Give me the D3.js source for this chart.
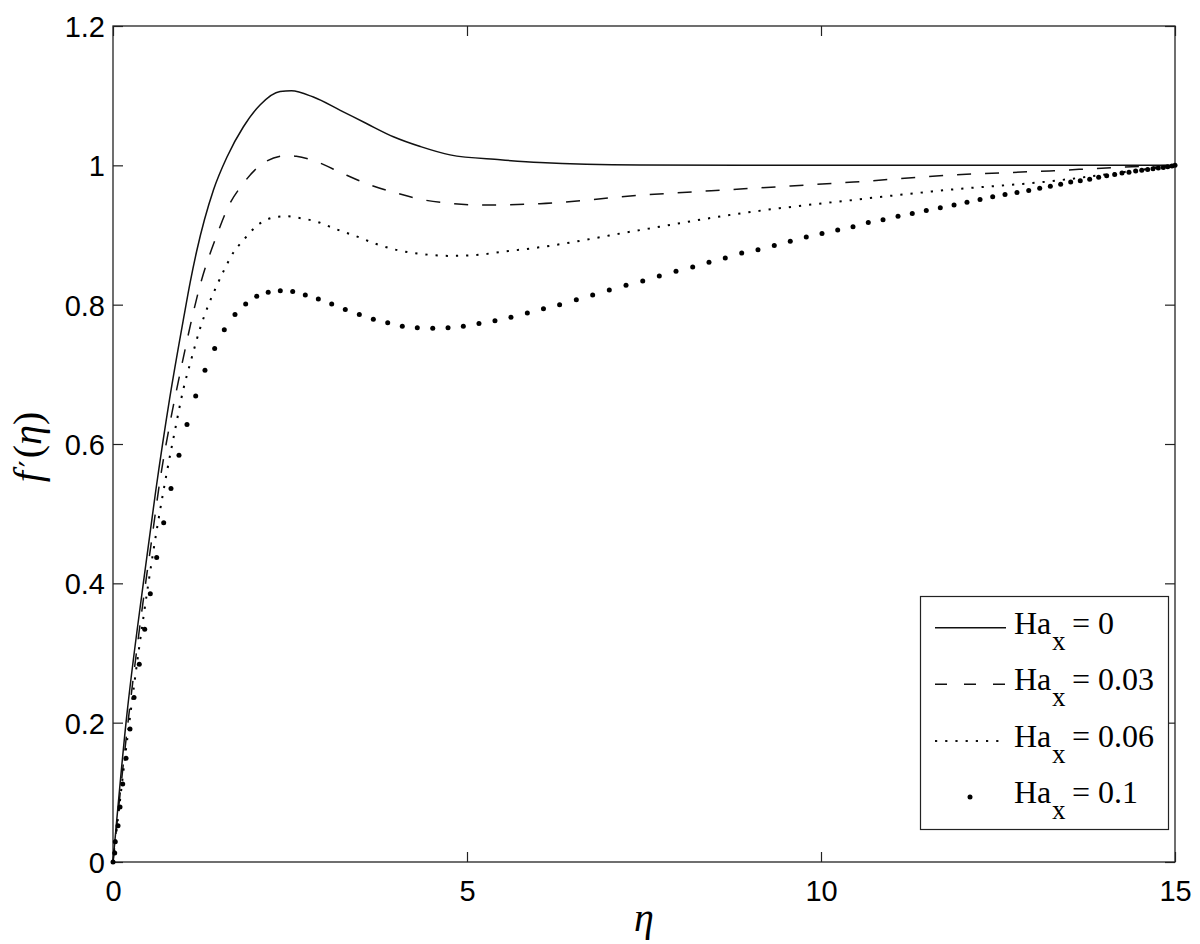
<!DOCTYPE html>
<html><head><meta charset="utf-8">
<script src="https://cdn.jsdelivr.net/npm/d3@7"></script>
<style>body{margin:0;background:#fff}</style>
</head><body><svg id="c" width="1200" height="944"></svg>
<script>
// ---- data ----
const etaHa0 = [0,0.184,0.428,0.6,0.8,1.0,1.09,1.18,1.42,1.61,1.84,2.08,2.36,2.52,2.83,3.21,3.58,3.96,4.34,4.76,5.47,6.03,7.44,9,12,15];
const fHa0   = [0,0.2,0.4,0.53,0.665,0.782,0.832,0.876,0.965,1.012,1.055,1.087,1.106,1.107,1.098,1.079,1.06,1.041,1.027,1.015,1.008,1.004,1.0005,1.0,1.0,1.0];

const etaHa003 = [0,0.2,0.46,0.546,0.664,0.805,0.946,1.25,1.46,1.63,1.84,2.12,2.45,2.59,2.88,3.25,3.63,4.01,4.41,4.81,5.23,6.03,7.44,8.86,10.46,11.82,13.23,14.18,15];
const fHa003   = [0,0.19,0.4,0.462,0.548,0.63,0.701,0.835,0.898,0.941,0.974,1.003,1.014,1.013,1.005,0.988,0.972,0.96,0.95,0.945,0.943,0.945,0.957,0.966,0.976,0.986,0.992,0.997,1.0];

const etaHa006 = [0,0.23,0.5,0.64,0.758,0.876,0.99,1.11,1.23,1.35,1.46,1.58,1.72,1.82,2.03,2.31,2.45,2.6,2.88,3.16,3.44,3.72,4.03,4.34,4.76,5.09,5.51,6.0,7.44,8.86,10.43,11.82,13.23,14.18,15];
const fHa006   = [0,0.2,0.4,0.49,0.558,0.62,0.677,0.723,0.766,0.80,0.826,0.852,0.878,0.89,0.913,0.926,0.927,0.925,0.919,0.908,0.898,0.887,0.878,0.873,0.87,0.871,0.876,0.882,0.907,0.931,0.95,0.965,0.977,0.989,1.0];

const etaHa01 = [0,0.024,0.032,0.071,0.099,0.137,0.184,0.240,0.297,0.371,0.448,0.527,0.617,0.716,0.819,0.932,1.045,1.168,1.299,1.436,1.572,1.723,1.874,2.030,2.192,2.363,2.538,2.716,2.900,3.089,3.281,3.479,3.677,3.880,4.086,4.298,4.516,4.732,4.948,5.169,5.395,5.621,5.852,6.080,6.308,6.544,6.775,7.010,7.246,7.482,7.716,7.952,8.188,8.418,8.648,8.880,9.110,9.340,9.566,9.792,10.014,10.236,10.452,10.668,10.876,11.088,11.289,11.487,11.685,11.879,12.062,12.246,12.425,12.599,12.768,12.934,13.089,13.239,13.385,13.527,13.662,13.795,13.922,14.035,14.148,14.251,14.350,14.445,14.530,14.614,14.689,14.764,14.835,14.897,14.958,15];
const fHa01   = [0,0.013,0.029,0.052,0.079,0.112,0.149,0.191,0.236,0.284,0.334,0.385,0.437,0.487,0.536,0.584,0.628,0.669,0.706,0.737,0.764,0.786,0.801,0.812,0.818,0.820,0.819,0.814,0.808,0.801,0.793,0.786,0.779,0.774,0.769,0.767,0.766,0.767,0.769,0.773,0.777,0.782,0.788,0.794,0.800,0.807,0.814,0.821,0.828,0.834,0.841,0.848,0.854,0.861,0.867,0.874,0.879,0.885,0.891,0.897,0.902,0.907,0.912,0.918,0.922,0.927,0.931,0.935,0.939,0.943,0.947,0.951,0.955,0.958,0.961,0.964,0.967,0.970,0.973,0.976,0.978,0.980,0.983,0.985,0.987,0.989,0.990,0.992,0.993,0.994,0.995,0.996,0.997,0.998,0.999,1.0];

const xTicks = [0,5,10,15];
const xTickLabels = ["0","5","10","15"];
const yTicks = [0,0.2,0.4,0.6,0.8,1,1.2];
const yTickLabels = ["0","0.2","0.4","0.6","0.8","1","1.2"];
const legendValues = ["0","0.03","0.06","0.1"];

// ---- drawing ----
const svg = d3.select("#c");
const x = d3.scaleLinear().domain([0,15]).range([113,1175]);
const y = d3.scaleLinear().domain([0,1.2]).range([862,26]);

const zip = (a,b)=>a.map((v,i)=>[v,b[i]]);
const line = d3.line().x(d=>x(d[0])).y(d=>y(d[1])).curve(d3.curveMonotoneX);

// axes
const tickFont = "'Liberation Sans', Arial, Helvetica, sans-serif";
const gx = svg.append("g").attr("transform","translate(0,862)")
  .call(d3.axisBottom(x).tickValues(xTicks).tickFormat((d,i)=>xTickLabels[i]).tickSizeInner(-10).tickSizeOuter(0).tickPadding(18));
const gy = svg.append("g").attr("transform","translate(113,0)")
  .call(d3.axisLeft(y).tickValues(yTicks).tickFormat((d,i)=>yTickLabels[i]).tickSizeInner(-10).tickSizeOuter(0).tickPadding(8));
const gt = svg.append("g").attr("transform","translate(0,26)")
  .call(d3.axisTop(x).tickValues(xTicks).tickFormat("").tickSizeInner(-10).tickSizeOuter(0));
const gr = svg.append("g").attr("transform","translate(1175,0)")
  .call(d3.axisRight(y).tickValues(yTicks).tickFormat("").tickSizeInner(-10).tickSizeOuter(0));
[gx,gy,gt,gr].forEach(g=>{
  g.select(".domain").remove();
  g.selectAll("line").attr("stroke","#222").attr("stroke-width",1.2);
  g.selectAll("text").attr("fill","#000").style("font-family",tickFont).style("font-size","29px");
});
gy.selectAll("text").attr("dy","0.36em");

svg.append("rect").attr("x",x(0)).attr("y",y(1.2)).attr("width",x(15)-x(0)).attr("height",y(0)-y(1.2))
  .attr("fill","none").attr("stroke","#222").attr("stroke-width",1.3);

// series
const plot = svg.append("g");
plot.append("path").attr("d",line(zip(etaHa0,fHa0))).attr("fill","none").attr("stroke","#111").attr("stroke-width",1.5);
plot.append("path").attr("d",line(zip(etaHa003,fHa003))).attr("fill","none").attr("stroke","#111").attr("stroke-width",1.5).attr("stroke-dasharray","14,14");
plot.append("path").attr("d",line(zip(etaHa006,fHa006))).attr("fill","none").attr("stroke","#000").attr("stroke-width",2).attr("stroke-dasharray","2.2,8");
plot.selectAll("circle.d").data(zip(etaHa01,fHa01)).join("circle").attr("class","d")
  .attr("cx",d=>x(d[0])).attr("cy",d=>y(d[1])).attr("r",2.5).attr("fill","#000");

// labels
const serif = "'Liberation Serif', 'Times New Roman', Times, serif";
svg.append("text").attr("x",644).attr("y",931).attr("text-anchor","middle")
  .style("font-family",serif).style("font-size","40px").style("font-style","italic").text("η");
const yl = svg.append("text").attr("transform","translate(41,447) rotate(-90)").attr("text-anchor","middle")
  .style("font-family",serif).style("font-size","40px");
yl.append("tspan").style("font-style","italic").text("f");
yl.append("tspan").attr("dx",4).style("font-family","'DejaVu Serif', serif").style("font-size","30px").text("′");
yl.append("tspan").attr("dx",2).text("(");
yl.append("tspan").style("font-style","italic").text("η");
yl.append("tspan").text(")");

// legend
const lg = svg.append("g");
lg.append("rect").attr("x",920.5).attr("y",596.5).attr("width",248).attr("height",233)
  .attr("fill","#fff").attr("stroke","#222").attr("stroke-width",1.2);
const rowY = [627.7,684.3,741,797];
const styles = [null,"12,17","2.2,8"];
legendValues.forEach((v,i)=>{
  const ry = rowY[i];
  if(i<3){
    lg.append("line").attr("x1",935).attr("x2",1006).attr("y1",ry).attr("y2",ry)
      .attr("stroke","#111").attr("stroke-width",i==2?2:1.5).attr("stroke-dasharray",styles[i]);
  } else {
    lg.append("circle").attr("cx",970).attr("cy",ry).attr("r",2.5).attr("fill","#000");
  }
  lg.append("text").attr("x",1014).attr("y",ry+6).style("font-family",serif).style("font-size","32px").text("Ha");
  lg.append("text").attr("x",1052).attr("y",ry+22).style("font-family",serif).style("font-size","27px").text("x");
  lg.append("text").attr("x",1072).attr("y",ry+6).style("font-family",serif).style("font-size","32px").text("= "+v);
});
</script>
</body></html>
